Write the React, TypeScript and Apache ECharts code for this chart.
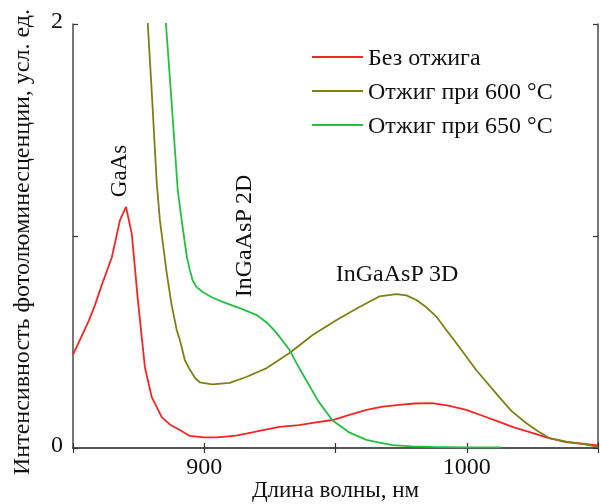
import React, { useEffect, useRef } from "react";
import * as echarts from "echarts";

const seriesNames = ["Без отжига", "Отжиг при 600 °C", "Отжиг при 650 °C"];
const colors = ["#f52525", "#808012", "#22c040"];

const redX = [850, 853, 856, 858.4, 861, 864.8, 867.9, 870.2, 872.4, 874.7, 877.4, 880, 883.8, 887, 890.7, 894.5, 900, 905, 912, 916, 920, 928.7, 936, 942, 948.9, 955, 961.8, 968, 974.3, 980, 986.9, 993, 999.8, 1006, 1012.4, 1018, 1024.9, 1031, 1037.8, 1044, 1050];
const redY = [0.44, 0.52, 0.6, 0.675, 0.77, 0.9, 1.075, 1.137, 1.01, 0.7, 0.38, 0.24, 0.146, 0.11, 0.085, 0.057, 0.05, 0.05, 0.058, 0.068, 0.078, 0.1, 0.108, 0.12, 0.132, 0.155, 0.18, 0.195, 0.203, 0.21, 0.212, 0.2, 0.18, 0.152, 0.123, 0.097, 0.071, 0.048, 0.028, 0.02, 0.012];

const oliveX = [877, 878.5, 880, 881.9, 883.1, 885.7, 887.5, 889.5, 890.7, 892.6, 894.5, 896.5, 898.3, 903, 909.7, 916, 923.8, 932.5, 941.3, 950.4, 959.1, 966.7, 973.2, 977, 980.8, 984.5, 988.4, 992, 996, 1003.6, 1012.4, 1017, 1022.6, 1027, 1031.4, 1038, 1043.9, 1050];
const oliveY = [2.3, 2.0, 1.68, 1.25, 1.075, 0.825, 0.68, 0.557, 0.51, 0.415, 0.37, 0.33, 0.31, 0.3, 0.307, 0.335, 0.377, 0.448, 0.533, 0.604, 0.665, 0.715, 0.726, 0.72, 0.698, 0.665, 0.62, 0.56, 0.495, 0.368, 0.24, 0.175, 0.118, 0.08, 0.047, 0.03, 0.019, 0.005];

const greenX = [884.5, 885.4, 887, 889.9, 891.4, 892.6, 893.4, 894.5, 895.6, 897, 899.4, 903, 907, 913.5, 920, 924, 927.6, 932.5, 936.5, 943.5, 948.9, 955, 961.8, 966.7, 971.7, 979, 986.9, 1000, 1013];
const greenY = [2.3, 2.0, 1.73, 1.217, 1.075, 0.967, 0.9, 0.84, 0.79, 0.76, 0.736, 0.71, 0.689, 0.66, 0.627, 0.59, 0.542, 0.462, 0.37, 0.22, 0.13, 0.075, 0.038, 0.025, 0.014, 0.008, 0.005, 0.003, 0.003];

const xTickLabels = [900, 1000];
const yTickLabels = [0, 2];

const FONT = "Liberation Serif";

function pairs(xs: number[], ys: number[]) {
  return xs.map((x, i) => [x, ys[i]]);
}

function axisLine() {
  return { show: true, lineStyle: { color: "#4a4a4a", width: 1.5 } };
}
function tick() {
  return { show: true, inside: true, length: 5, lineStyle: { color: "#333", width: 1.2 } };
}

export default function App() {
  const ref = useRef<HTMLDivElement>(null);
  useEffect(() => {
    if (!ref.current) return;
    const chart = echarts.init(ref.current, undefined, { renderer: "svg" });
    const datasets = [pairs(redX, redY), pairs(oliveX, oliveY), pairs(greenX, greenY)];
    chart.setOption({
      animation: false,
      grid: { left: 73, right: 2, top: 24, bottom: 56, outerBoundsMode: "none", containLabel: false },
      legend: {
        orient: "vertical",
        left: 307,
        top: 40,
        icon: "rect",
        itemWidth: 51,
        itemHeight: 2,
        itemGap: 10,
        textStyle: { fontFamily: FONT, fontSize: 24, color: "#111" },
        data: seriesNames,
      },
      xAxis: [
        {
          type: "value",
          min: 850,
          max: 1050,
          interval: 50,
          axisLine: axisLine(),
          axisTick: tick(),
          splitLine: { show: false },
          axisLabel: {
            fontFamily: FONT,
            fontSize: 24,
            color: "#111",
            margin: 6,
            formatter: (v: number) => (xTickLabels.includes(v) ? String(v) : ""),
          },
          name: "Длина волны, нм",
          nameLocation: "middle",
          nameGap: 30,
          nameMoveOverlap: false,
          nameTextStyle: { fontFamily: FONT, fontSize: 23, color: "#111" },
        },
        {
          type: "value",
          position: "top",
          min: 850,
          max: 1050,
          interval: 50,
          axisLine: axisLine(),
          axisTick: tick(),
          splitLine: { show: false },
          axisLabel: { show: false },
        },
      ],
      yAxis: [
        {
          type: "value",
          min: 0,
          max: 2,
          interval: 1,
          axisLine: axisLine(),
          axisTick: tick(),
          splitLine: { show: false },
          axisLabel: {
            fontFamily: FONT,
            fontSize: 24,
            color: "#111",
            margin: 10,
            verticalAlign: "bottom",
            lineHeight: 8,
            formatter: (v: number) => (yTickLabels.includes(v) ? String(v) : ""),
          },
        },
        {
          type: "value",
          position: "right",
          min: 0,
          max: 2,
          interval: 1,
          axisLine: axisLine(),
          axisTick: tick(),
          splitLine: { show: false },
          axisLabel: { show: false },
        },
      ],
      series: datasets.map((d, i) => ({
        name: seriesNames[i],
        type: "line",
        data: d,
        symbol: "none",
        clip: true,
        lineStyle: { color: colors[i], width: 1.8 },
        itemStyle: { color: colors[i] },
      })),
      graphic: [
        {
          type: "text",
          x: 21,
          y: 242,
          rotation: Math.PI / 2,
          style: {
            text: "Интенсивность фотолюминесценции, усл. ед.",
            font: `24px '${FONT}'`,
            fill: "#111",
            align: "center",
            verticalAlign: "middle",
          },
        },
        {
          type: "text",
          x: 118,
          y: 171,
          rotation: Math.PI / 2,
          style: { text: "GaAs", font: `23px '${FONT}'`, fill: "#111", align: "center", verticalAlign: "middle" },
        },
        {
          type: "text",
          x: 243,
          y: 236,
          rotation: Math.PI / 2,
          style: { text: "InGaAsP 2D", font: `24px '${FONT}'`, fill: "#111", align: "center", verticalAlign: "middle" },
        },
        {
          type: "text",
          x: 397,
          y: 273,
          style: { text: "InGaAsP 3D", font: `24px '${FONT}'`, fill: "#111", align: "center", verticalAlign: "middle" },
        },
      ],
    });
    return () => chart.dispose();
  }, []);
  return <div ref={ref} style={{ position: "fixed", left: 0, top: 0, width: 600, height: 504 }} />;
}
